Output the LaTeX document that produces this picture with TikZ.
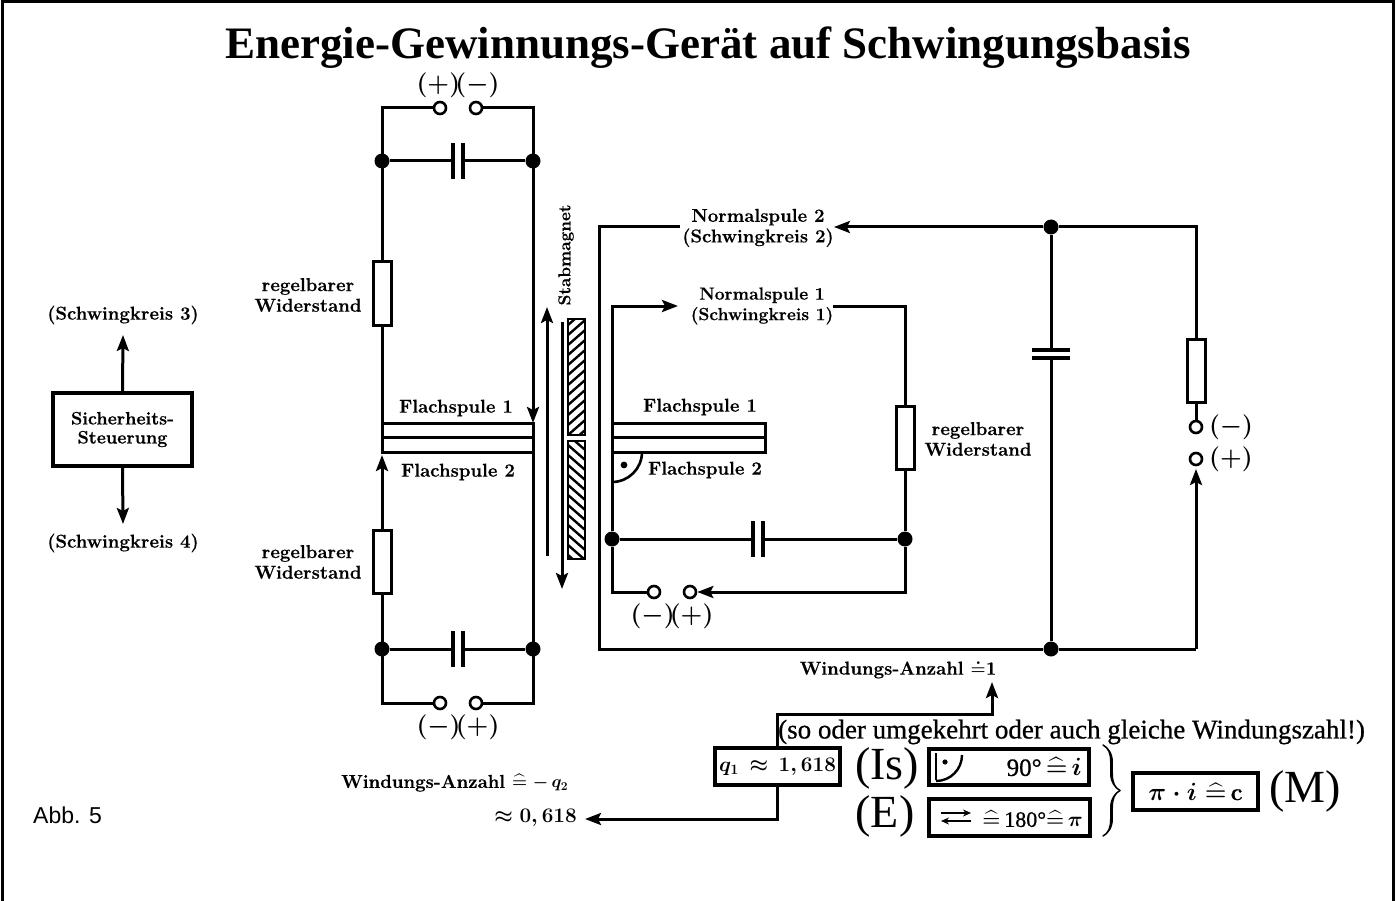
\documentclass[tikz,border=0pt]{standalone}
\usepackage{amsmath,amssymb}
\usepackage{fontspec}
\setmainfont{Latin Modern Roman}[BoldFeatures={FakeBold=0.5}]
\newfontfamily\timesf{Liberation Serif}
\newfontfamily\timesbf{Liberation Serif}[FakeBold=0.7]
\newfontfamily\titlef{Liberation Serif Bold}
\newfontfamily\arialf{Liberation Sans}
\usetikzlibrary{arrows.meta,decorations.pathreplacing,calligraphy}
\newcommand{\entspr}{\mathrel{\widehat{=}}}
\newcommand{\fs}[1]{\fontsize{#1}{#1}\selectfont}
\tikzset{
  wire/.style={line width=3pt,black},
  arr/.style={wire,-{Stealth[length=16pt,width=12pt,inset=3pt]}},
  dotn/.style={circle,fill=black,inner sep=0pt,minimum size=15pt},
  term/.style={circle,draw=black,line width=2.6pt,fill=white,inner sep=0pt,minimum size=12pt},
  res/.style={rectangle,draw=black,line width=3pt,fill=white,inner sep=0pt,minimum width=18pt,minimum height=63pt},
  coil/.style={draw=black,line width=3pt},
  lbl/.style={font=\bfseries\fs{18.6},align=center,inner sep=0pt,text=black},
  pol/.style={font=\fs{26}\boldmath,inner sep=0pt},
  serif/.style={font=\timesf\fs{46},inner sep=0pt},
  infobox/.style={draw=black,line width=3.4pt,fill=white,inner sep=0pt,anchor=center},
  capl/.style={line width=3.4pt,black},
}
\begin{document}
\begin{tikzpicture}[x=1pt,y=-1pt]
\useasboundingbox (0,0) rectangle (1397,901);
\fill[white] (0,0) rectangle (1397,901);
\draw[line width=3pt,black] (2.5,2) rectangle (1393.5,907);

\node[font=\titlef\fs{45},inner sep=0pt] (title) at (708,48) {Energie-Gewinnungs-Ger\"at auf Schwingungsbasis};

% left coordinates
\coordinate (ltl) at (382,110); \coordinate (ltr) at (533,110);
\node[dotn] (d1) at (382,161) {}; \node[dotn] (d2) at (533,161) {};
\node[dotn] (d3) at (382,649) {}; \node[dotn] (d4) at (533,649) {};
\coordinate (lbl) at (382,703); \coordinate (lbr) at (533,703);
\node[term] (t1) at (440,108) {}; \node[term] (t2) at (476,108) {};
\node[term] (t3) at (440,703) {}; \node[term] (t4) at (476,703) {};
\node[res] (r1) at (382,293.5) {}; \node[res] (r2) at (382,561.5) {};
\coordinate (ctl) at (382,423); \coordinate (ctr) at (533,423);
\coordinate (cbl) at (382,452); \coordinate (cbr) at (533,452);
\coordinate (c1a) at (453,161); \coordinate (c1b) at (463,161);
\coordinate (c2a) at (453,649); \coordinate (c2b) at (463,649);

\draw[wire] (t1) -- (t1 -| ltl) -- (r1.north);
\draw[wire] (r1.south) -- (ctl);
\draw[arr] (t2) -- (t2 -| ltr) -- (ctr);
\draw[wire] (d1) -- (c1a) (c1b) -- (d2);
\draw[capl] (453,143) -- (453,179) (463,143) -- (463,179);
\draw[wire] (d3) -- (c2a) (c2b) -- (d4);
\draw[capl] (453,631) -- (453,667) (463,631) -- (463,667);
\draw[wire] (t3) -- (lbl) -- (r2.south);
\draw[arr] (r2.north) -- (382,455);
\draw[wire] (t4) -- (lbr) -- (cbr);
\draw[coil] (ctr) -- (ctl) -- (cbl) -- (cbr) -- cycle;
\draw[coil] (382,437.5) -- (533,437.5);

\node[lbl] (ln1) at (456,408) {Flachspule 1};
\node[lbl] (ln2) at (458,472) {Flachspule 2};
\node[lbl] (ln3) at (308,295) {regelbarer\\[2pt]Widerstand};
\node[lbl] (ln4) at (308,562) {regelbarer\\[2pt]Widerstand};
\node[pol] (pm1) at (458,85) {$(+)\!(-)$};
\node[pol] (pm2) at (458,727) {$(-)\!(+)$};

% left box
\node[draw=black,line width=3.4pt,minimum width=139pt,minimum height=73pt,inner sep=0pt,align=center,font=\bfseries\fs{18}] (sich) at (122.5,429.5) {Sicherheits-\\[1pt]Steuerung};
\node[lbl] (s3) at (123,315) {(Schwingkreis 3)};
\node[lbl] (s4) at (123,543) {(Schwingkreis 4)};
\draw[arr] (sich.north) -- (s3.south |- 0,335);
\draw[arr] (sich.south) -- (s4.north |- 0,524);

% magnet
\node[lbl,font=\bfseries\fs{17.2},rotate=90] (stab) at (566,255) {Stabmagnet};
\coordinate (au0) at (547,556); \coordinate (au1) at (547,307);
\coordinate (ad0) at (562,322); \coordinate (ad1) at (562,589);
\draw[arr] (au0) -- (au1);
\draw[arr] (ad0) -- (ad1);
\begin{scope}
\clip (568,319) rectangle (585,435);
\foreach \y in {300,310,...,460} \draw[line width=2.4pt] (560,\y+12) -- (592,\y-16);
\end{scope}
\begin{scope}
\clip (568,441) rectangle (585,559);
\foreach \y in {420,430,...,580} \draw[line width=2.4pt] (560,\y-12) -- (592,\y+16);
\end{scope}
\draw[line width=2.6pt] (568,319) rectangle (585,435);
\draw[line width=2.6pt] (568,441) rectangle (585,559);

% outer loop right
\node[lbl] (n2) at (758,228) {Normalspule 2\\[2pt](Schwingkreis 2)};
\coordinate (o1) at (599,227); \coordinate (o2) at (599,649);
\node[dotn] (d5) at (1051,227) {}; \node[dotn] (d6) at (1051,649) {};
\coordinate (o3) at (1196,227); \coordinate (o4) at (1196,649);
\node[res] (r4) at (1196,370.5) {};
\node[term] (t7) at (1196,427) {}; \node[term] (t8) at (1196,459) {};
\draw[wire] (680,227) -- (o1) -- (o2) -- (d6);
\draw[arr] (d5) -- (n2.east |- d5);
\draw[wire] (d5) -- (o3) -- (r4.north);
\draw[wire] (r4.south) -- (t7);
\draw[wire] (d5) -- (1051,350) (1051,358) -- (d6);
\draw[capl] (1032,350) -- (1070,350) (1032,358) -- (1070,358);
\draw[wire] (d6) -- (o4);
\draw[arr] (o4) -- (1196,469);
\node[pol] (pmr1) at (1231,427) {$(-)$};
\node[pol] (pmr2) at (1231,459) {$(+)$};

% inner loop
\node[lbl,font=\bfseries\fs{17.5}] (n1) at (762,306) {Normalspule 1\\[3pt](Schwingkreis 1)};
\coordinate (i1) at (612,306); \coordinate (i2) at (905,306);
\node[dotn] (d7) at (612,539) {}; \node[dotn] (d8) at (905,539) {};
\node[res] (r3) at (905,438) {};
\node[term] (t5) at (654,592) {}; \node[term] (t6) at (690,592) {};
\draw[arr] (d7) -- (i1) -- (678,306);
\draw[wire] (n1.east |- i2) -- (i2) -- (r3.north);
\draw[wire] (r3.south) -- (d8);
\draw[wire] (d7) -- (753,539) (763,539) -- (d8);
\draw[capl] (753,521) -- (753,557) (763,521) -- (763,557);
\draw[wire] (t5) -- (t5 -| d7) -- (d7);
\draw[wire] (d8) -- (905,592) -- (705,592);
\draw[arr] (905,592) -- (t6.east);
\draw[coil] (612,423) -- (765,423) -- (765,452) -- (612,452);
\draw[coil] (612,437.5) -- (765,437.5);
\draw[line width=2.6pt] (642,452) arc[start angle=0,end angle=-90,radius=30pt];
\fill (624,465) circle (3.4pt);
\node[pol] (pm3) at (672,616) {$(-)\!(+)$};
\node[lbl] (rn1) at (700,407) {Flachspule 1};
\node[lbl] (rn2) at (705,470) {Flachspule 2};
\node[lbl] (rn3) at (978,439) {regelbarer\\[2pt]Widerstand};

% bottom
\node[infobox,minimum width=125pt,minimum height=37pt,font=\bfseries\fs{21}] (q) at (777.5,766.5) {$\boldsymbol{q_1\,\approx\,1,618}$};
\node[lbl] (w1) at (898,669) {Windungs-Anzahl $\boldsymbol{\doteq}$1};
\node[lbl,anchor=west] (w2) at (341,783) {Windungs-Anzahl $\boldsymbol{\entspr -\,q_2}$};
\node[font=\bfseries\fs{20},inner sep=0pt,anchor=east] (w3) at (577,818) {$\boldsymbol{\approx 0,618}$};
\draw[arr] (q.north) -- (q.north |- 0,714) -- (992,714) -- (992,682);
\draw[arr] (q.south) -- (q.south |- 0,819) -- (585,819);
\node[font=\timesbf\fs{27},inner sep=0pt,anchor=west] (so) at (778,732) {(so oder umgekehrt oder auch gleiche Windungszahl!)};
\node[serif] (is) at (887,768) {(Is)};
\node[serif] (e) at (885,816) {(E)};
\node[infobox,minimum width=160pt,minimum height=36pt] (b1) at (1009,767) {};
\node[infobox,minimum width=161pt,minimum height=37pt] (b2) at (1009.5,817.5) {};
\node[font=\timesbf\fs{25},inner sep=0pt,anchor=east] (b1t) at (1082,767) {90\textdegree$\,\boldsymbol{\entspr}$\,$\boldsymbol{i}$};
\node[font=\timesbf\fs{22},inner sep=0pt,anchor=east] (b2t) at (1083,819) {$\boldsymbol{\entspr}$\,180\textdegree$\boldsymbol{\entspr}$\,$\boldsymbol{\pi}$};
\draw[line width=2.4pt] (936,753) -- (936,780);
\draw[line width=2.4pt] (962,755) arc[start angle=0,end angle=-90,radius=26pt];
\fill (945,762) circle (2.6pt);
\draw[line width=2.4pt,-{Stealth[length=8pt,width=7pt]}] (941,813) -- (971,813);
\draw[line width=2.4pt,-{Stealth[length=8pt,width=7pt]}] (971,821) -- (941,821);
\draw[line width=3pt,decorate,decoration={calligraphic brace,amplitude=17pt,raise=0pt}] (1103,745) -- (1103,836);
\node[infobox,minimum width=125pt,minimum height=37pt,font=\bfseries\fs{24}] (b3) at (1195.5,791.5) {$\boldsymbol{\pi\cdot i\entspr}$\,c};
\node[serif] (m) at (1305,791) {(M)};
\node[font=\arialf\fs{23},anchor=west,inner sep=0pt] (abb) at (33,815) {Abb. 5};
\end{tikzpicture}
\end{document}
